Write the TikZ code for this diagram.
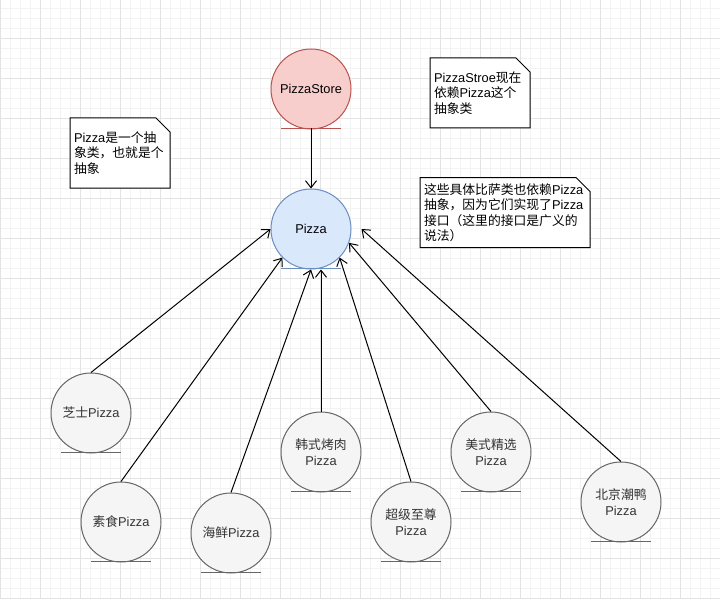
\documentclass[tikz,border=0pt]{standalone}
\usepackage{fontspec}
\setmainfont{Liberation Sans}
\newfontfamily\cjk{Noto Sans CJK SC}
\usetikzlibrary{arrows.meta,calc}
\definecolor{bluefill}{HTML}{DAE8FC}
\definecolor{bluestroke}{HTML}{6C8EBF}
\definecolor{redfill}{HTML}{F8CECC}
\definecolor{redstroke}{HTML}{B85450}
\definecolor{grayfill}{HTML}{F5F5F5}
\definecolor{graystroke}{HTML}{666666}
\definecolor{graytext}{HTML}{333333}
\definecolor{gridminor}{HTML}{F3F3F3}
\definecolor{gridmajor}{HTML}{E3E3E3}
\pgfdeclarelayer{bg}
\pgfdeclarelayer{mid}
\pgfsetlayers{bg,mid,main}
\newcommand\drawnote[1]{\draw[noteline] (#1.south west) -- (#1.north west) -- ($(#1.north east)+(-14,0)$) -- ($(#1.north east)+(0,14)$) -- (#1.south east) -- cycle;}
\newcommand\drawunder[2]{\draw[#2, line width=1pt] ($(#1.center)+(-30,39.5)$) -- ($(#1.center)+(30,39.5)$);}
\begin{document}
\begin{tikzpicture}[x=1pt,y=-1pt,
  ent/.style={circle, minimum size=80pt, inner sep=0pt, line width=1pt, align=center, font=\fontsize{12.8}{16}\selectfont},
  storeent/.style={ent, draw=redstroke, fill=redfill, text=black},
  absent/.style={ent, draw=bluestroke, fill=bluefill, text=black},
  itement/.style={ent, draw=graystroke, fill=grayfill, text=graytext},
  conn/.style={line width=1pt, draw=black, -{Straight Barb[length=7pt,width=11pt]}},
  notetext/.style={inner xsep=4pt, inner ysep=0pt, outer sep=0pt, minimum height=70pt, align=left, font=\fontsize{12.8}{15.5}\selectfont, text=black},
  noteline/.style={draw=black, fill=white, line width=1pt, line join=miter}
]
\useasboundingbox (0,0) rectangle (720,599);
\begin{pgfonlayer}{bg}
  \fill[white] (0,0) rectangle (720,599);
  \foreach \x in {0,10,...,720} { \draw[gridminor, line width=0.8pt] (\x,0) -- (\x,599); }
  \foreach \y in {8,18,...,598} { \draw[gridminor, line width=0.8pt] (0,\y) -- (720,\y); }
  \foreach \x in {0,40,...,720} { \draw[gridmajor, line width=0.9pt] (\x,0) -- (\x,599); }
  \foreach \y in {38,78,...,598} { \draw[gridmajor, line width=0.9pt] (0,\y) -- (720,\y); }
\end{pgfonlayer}

% main circles
\node[storeent] (store) at (311,89) {PizzaStore};
\node[absent] (pizza) at (311,229) {Pizza};
\drawunder{store}{redstroke}
\drawunder{pizza}{bluestroke}

% concrete pizzas
\node[itement] (zs) at (91,413) {{\cjk 芝士}Pizza};
\node[itement] (ss) at (121,522) {{\cjk 素食}Pizza};
\node[itement] (hx) at (231,533) {{\cjk 海鲜}Pizza};
\node[itement] (hs) at (321,452) {{\cjk 韩式烤肉}\\Pizza};
\node[itement] (cj) at (411,522) {{\cjk 超级至尊}\\Pizza};
\node[itement] (ms) at (491,452) {{\cjk 美式精选}\\Pizza};
\node[itement] (bj) at (621,502) {{\cjk 北京潮鸭}\\Pizza};
\foreach \n in {zs,ss,hx,hs,cj,ms,bj} { \drawunder{\n}{graystroke} }

% connectors
\draw[conn] ($(store.center)+(0,39.5)$) -- (pizza.north);
\draw[conn] (zs.north) -- (pizza.west);
\draw[conn] (ss.north) -- (pizza.south west);
\draw[conn] (hx.north) -- (pizza.south);
\draw[conn] (hs.north) -- (hs.north |- pizza.south);
\draw[conn] (cj.north) -- (pizza.south east);
\draw[conn] (ms.north) -- (pizza.-20);
\draw[conn] (bj.north) -- ($(pizza.east)+(10,0)$);

% notes
\node[notetext, text width=92pt] (n1) at (120,153) {Pizza{\cjk 是一个抽}\\{\cjk 象类，也就是个}\\{\cjk 抽象}};
\node[notetext, text width=92pt] (n2) at (480,93) {PizzaStroe{\cjk 现在}\\{\cjk 依赖}Pizza{\cjk 这个}\\{\cjk 抽象类}};
\node[notetext, text width=162pt] (n3) at (505,212.5) {{\cjk 这些具体比萨类也依赖}Pizza\\{\cjk 抽象，因为它们实现了}Pizza\\{\cjk 接口（这里的接口是广义的}\\{\cjk 说法）}};
\begin{pgfonlayer}{mid}
  \drawnote{n1}
  \drawnote{n2}
  \drawnote{n3}
\end{pgfonlayer}
\end{tikzpicture}
\end{document}
